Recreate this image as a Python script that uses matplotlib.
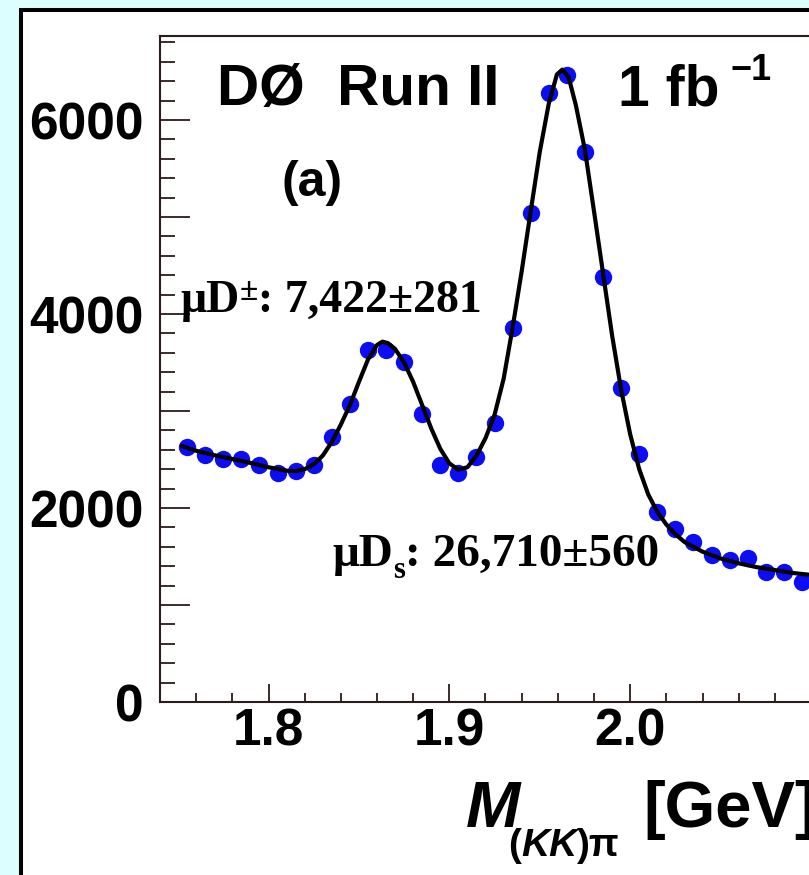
import matplotlib
matplotlib.use('Agg')
import matplotlib.pyplot as plt
from matplotlib.patches import Rectangle
from matplotlib.ticker import MultipleLocator, FuncFormatter

# ---- data ----
mass_bins = [1.755, 1.765, 1.775, 1.785, 1.795, 1.805, 1.815, 1.825, 1.835, 1.845,
             1.855, 1.865, 1.875, 1.885, 1.895, 1.905, 1.915, 1.925, 1.935, 1.945,
             1.955, 1.965, 1.975, 1.985, 1.995, 2.005, 2.015, 2.025, 2.035, 2.045,
             2.055, 2.065, 2.075, 2.085, 2.095]
counts = [2630, 2546, 2505, 2510, 2443, 2360, 2380, 2443, 2732, 3072,
          3629, 3629, 3505, 2969, 2443, 2361, 2526, 2876, 3856, 5041,
          6278, 6464, 5670, 4381, 3237, 2557, 1959, 1784, 1649, 1515,
          1464, 1485, 1340, 1340, 1237]

fit_x = [1.752, 1.76, 1.77, 1.78, 1.79, 1.80, 1.81, 1.815, 1.82, 1.825, 1.83, 1.835,
         1.84, 1.845, 1.85, 1.855, 1.86, 1.863, 1.866, 1.87, 1.875, 1.88, 1.885,
         1.89, 1.895, 1.90, 1.905, 1.91, 1.915, 1.92, 1.925, 1.93, 1.935, 1.94,
         1.945, 1.95, 1.955, 1.9595, 1.9625, 1.966, 1.97, 1.975, 1.98, 1.985, 1.99,
         1.995, 2.00, 2.005, 2.01, 2.015, 2.02, 2.025, 2.03, 2.04, 2.05, 2.06, 2.07,
         2.08, 2.09, 2.10]
fit_y = [2640, 2590, 2545, 2505, 2465, 2420, 2385, 2380, 2400, 2450, 2540, 2680,
         2860, 3060, 3300, 3530, 3680, 3715, 3700, 3640, 3500, 3300, 3060,
         2820, 2610, 2460, 2395, 2420, 2540, 2720, 2960, 3330, 3860, 4440,
         5060, 5670, 6170, 6470, 6520, 6440, 6150, 5690, 5060, 4420, 3780,
         3220, 2760, 2400, 2140, 1960, 1830, 1730, 1650, 1550, 1480, 1430, 1390,
         1360, 1330, 1310]

x_ticks = [1.8, 1.9, 2.0]
x_tick_labels = ['1.8', '1.9', '2.0']
y_tick_labels = {0: '0', 2000: '2000', 4000: '4000', 6000: '6000'}

title_left = 'DØ  Run II'
title_right = '1 fb'
title_sup = '\u22121'
panel_tag = '(a)'

# ---- figure ----
W, H = 809, 875
fig = plt.figure(figsize=(W / 100, H / 100), dpi=100)
fig.patch.set_facecolor('#dcfefe')

def fx(px):
    return px / W

def fy(py):
    return 1 - py / H

frame = Rectangle((fx(21), fy(1000)), fx(1000) - fx(21), fy(10) - fy(1000),
                  transform=fig.transFigure, facecolor='white',
                  edgecolor='black', lw=2.9, zorder=-10)
fig.patches.append(frame)

ax = fig.add_axes([fx(160), fy(702), fx(811) - fx(160), fy(36) - fy(702)])
ax.set_zorder(1)
ax.set_facecolor('none')
ax.set_xlim(1.74, 2.10)
ax.set_ylim(0, 6866)

ax.plot(mass_bins, counts, 'o', color='#0c0cf5', ms=12.5, mec='none', zorder=2)
ax.plot(fit_x, fit_y, color='black', lw=3, zorder=3, solid_capstyle='round')

spine_col = '#2b1b1b'
for s in ax.spines.values():
    s.set_color(spine_col)
    s.set_linewidth(1.5)

SANS = 'Liberation Sans'
SERIF = 'Liberation Serif'

ax.set_xticks(x_ticks)
ax.set_xticklabels(x_tick_labels, fontfamily=SANS, fontweight='bold', fontsize=37)
ax.xaxis.set_minor_locator(MultipleLocator(0.02))
ax.yaxis.set_major_locator(MultipleLocator(1000))
ax.yaxis.set_minor_locator(MultipleLocator(200))
ax.yaxis.set_major_formatter(FuncFormatter(lambda v, p: y_tick_labels.get(int(round(v)), '')))
ax.tick_params(axis='y', which='major', direction='in', length=21.5, width=1.3,
               color=spine_col, pad=12, labelsize=37)
ax.tick_params(axis='y', which='minor', direction='in', length=10.8, width=1.3,
               color=spine_col)
ax.tick_params(axis='x', which='major', direction='in', length=13, width=1.3,
               color=spine_col, pad=4, labelsize=37)
ax.tick_params(axis='x', which='minor', direction='in', length=6.5, width=1.3,
               color=spine_col)
for lab in ax.get_yticklabels() + ax.get_xticklabels():
    lab.set_fontfamily(SANS)
    lab.set_fontweight('bold')

renderer = fig.canvas.get_renderer()

def seq(parts, x, y):
    """Draw text pieces one after another; x, y in pixels (baseline)."""
    cur = x
    for s, size, dy, fam, style in parts:
        t = fig.text(fx(cur), fy(y + dy), s, fontsize=size, fontfamily=fam,
                     fontweight='bold', fontstyle=style, va='baseline', ha='left',
                     color='black', zorder=5)
        bb = t.get_window_extent(renderer=renderer)
        cur += bb.width

# title
fig.text(fx(217), fy(105), title_left, fontsize=42, fontfamily=SANS, fontweight='bold',
         va='baseline', ha='left', zorder=5)
fig.text(fx(618), fy(105), title_right, fontsize=41, fontfamily=SANS, fontweight='bold',
         va='baseline', ha='left', zorder=5)
fig.text(fx(731), fy(80), title_sup, fontsize=26, fontfamily=SANS, fontweight='bold',
         va='baseline', ha='left', zorder=5)
fig.text(fx(282), fy(196), panel_tag, fontsize=36, fontfamily=SANS, fontweight='bold',
         va='baseline', ha='left', zorder=5)

# yields
seq([('μD', 33, 0, SERIF, 'normal'), ('±', 24, -12, SERIF, 'normal'),
     (': 7,422±281', 33, 0, SERIF, 'normal')], 180, 312)
seq([('μD', 34, 0, SERIF, 'normal'), ('s', 22, 12, SERIF, 'normal'),
     (': 26,710±560', 34, 0, SERIF, 'normal')], 332, 566)

# axis title
fig.text(fx(466), fy(827), 'M', fontsize=47, fontfamily=SANS, fontweight='bold',
         fontstyle='italic', va='baseline', ha='left', zorder=5)
seq([('(', 28, 0, SANS, 'normal'), ('KK', 28, 0, SANS, 'italic'),
     (')π', 28, 0, SANS, 'normal')], 508, 856)
fig.text(fx(643), fy(827), '[GeV]', fontsize=47, fontfamily=SANS, fontweight='bold',
         va='baseline', ha='left', zorder=5)

fig.savefig('out.png', dpi=100, facecolor=fig.get_facecolor())
